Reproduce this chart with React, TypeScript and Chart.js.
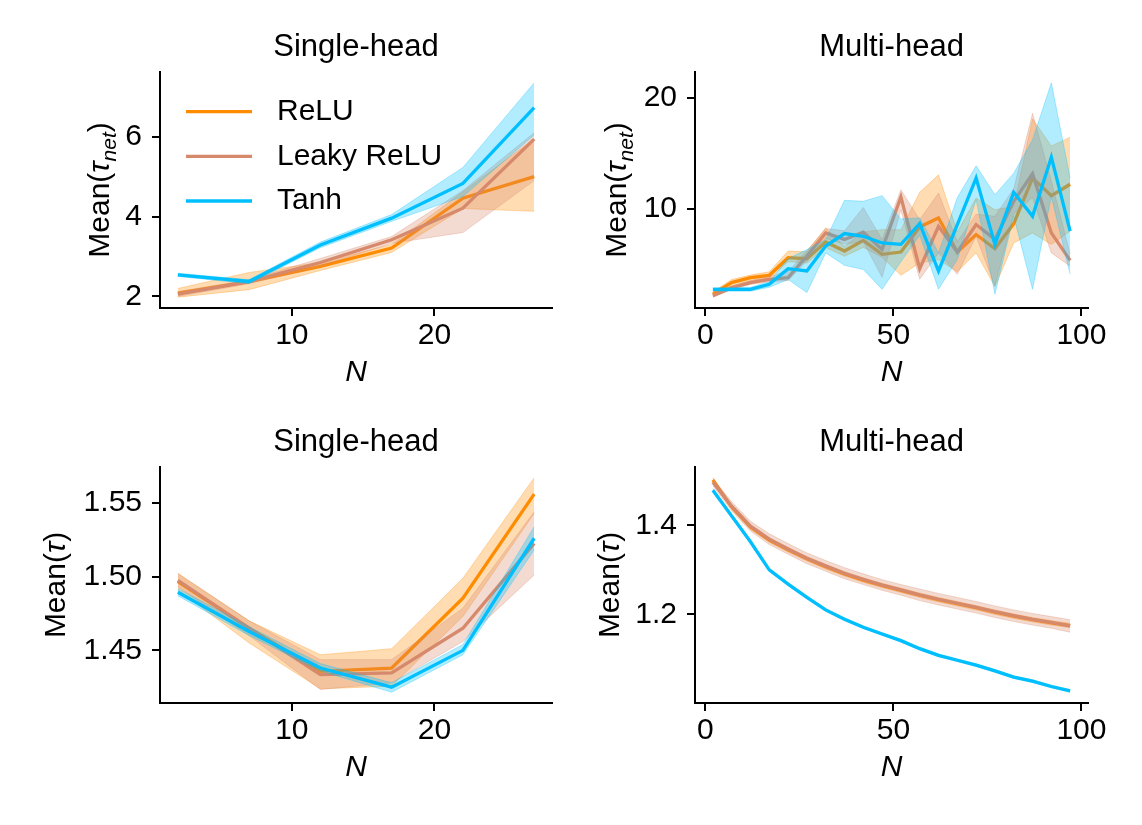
import React, { useEffect, useRef } from "react";
import { Chart, registerables } from "chart.js";
Chart.register(...registerables);

const FONT = "'Liberation Sans', Arial, Helvetica, sans-serif";

// ---------- categories ----------
const N_SINGLE = [2, 7, 12, 17, 22, 27];
const N_MULTI = [2, 7, 12, 17, 22, 27, 32, 37, 42, 47, 52, 57, 62, 67, 72, 77, 82, 87, 92, 97];

// ---------- tick labels ----------
const X_TICKS_SINGLE = [10, 20];
const X_TICKS_MULTI = [0, 50, 100];
const Y_TICKS_TL = [2, 4, 6];
const Y_TICKS_TR = [10, 20];
const Y_TICKS_BL = [1.45, 1.5, 1.55];
const Y_TICKS_BR = [1.2, 1.4];

// ---------- Single-head, Mean(tau_net) ----------
const TL_RELU = [2.08, 2.37, 2.75, 3.21, 4.46, 5.0];
const TL_RELU_LO = [1.98, 2.17, 2.65, 3.1, 4.2, 4.13];
const TL_RELU_HI = [2.2, 2.6, 2.85, 3.3, 4.62, 5.95];
const TL_LEAKY = [2.06, 2.37, 2.85, 3.42, 4.21, 5.94];
const TL_LEAKY_LO = [2.0, 2.32, 2.75, 3.33, 3.6, 4.9];
const TL_LEAKY_HI = [2.12, 2.42, 2.95, 3.5, 4.65, 6.1];
const TL_TANH = [2.54, 2.375, 3.29, 3.96, 4.83, 6.73];
const TL_TANH_LO = [2.5, 2.32, 3.22, 3.88, 4.5, 6.04];
const TL_TANH_HI = [2.58, 2.42, 3.36, 4.05, 5.23, 7.35];

// ---------- Multi-head, Mean(tau_net) ----------
const TR_RELU = [2.28, 3.32, 3.77, 3.98, 5.57, 5.48, 6.98, 6.17, 7.13, 5.87, 6.08, 8.35, 9.16, 6.08, 7.66, 6.38, 8.65, 12.75, 11.17, 12.2];
const TR_RELU_LO = [2.1, 3.0, 3.5, 3.7, 5.2, 5.1, 6.5, 5.7, 6.5, 5.6, 3.98, 5.1, 5.4, 4.3, 6.0, 2.96, 6.9, 7.8, 6.77, 7.96];
const TR_RELU_HI = [2.5, 3.6, 4.0, 4.3, 6.17, 6.1, 8.26, 6.6, 7.9, 8.1, 8.1, 11.47, 13.05, 7.9, 10.96, 9.9, 10.2, 18.1, 15.66, 16.44];
const TR_LEAKY = [2.13, 2.87, 3.32, 3.62, 3.77, 5.72, 7.81, 7.22, 7.87, 6.32, 11.05, 4.58, 8.41, 6.08, 8.56, 7.22, 10.66, 13.14, 7.81, 5.33];
const TR_LEAKY_LO = [2.0, 2.7, 3.15, 3.4, 3.5, 5.3, 7.3, 6.8, 7.0, 3.8, 9.9, 3.62, 6.0, 4.07, 7.5, 3.0, 9.5, 11.0, 6.0, 4.8];
const TR_LEAKY_HI = [2.3, 3.0, 3.5, 3.9, 4.3, 6.2, 8.2, 8.0, 10.1, 7.2, 11.7, 9.0, 11.4, 7.0, 9.5, 9.3, 11.8, 18.6, 12.5, 5.9];
const TR_TANH = [2.72, 2.72, 2.72, 3.17, 4.58, 4.37, 6.62, 7.75, 7.5, 6.9, 6.77, 8.65, 4.37, 8.56, 12.75, 6.77, 11.47, 9.31, 14.64, 7.96];
const TR_TANH_LO = [2.55, 2.55, 2.55, 2.9, 3.6, 2.42, 6.0, 4.88, 4.5, 2.72, 5.2, 7.6, 2.72, 5.4, 10.8, 2.28, 9.3, 2.72, 11.1, 4.07];
const TR_TANH_HI = [2.85, 2.85, 2.9, 3.4, 5.5, 6.3, 7.2, 10.75, 10.66, 11.17, 9.07, 9.16, 6.0, 11.0, 13.86, 11.26, 13.2, 16.2, 21.35, 12.75];

// ---------- Single-head, Mean(tau) ----------
const BL_RELU = [1.4966, 1.465, 1.4358, 1.438, 1.4854, 1.5559];
const BL_RELU_LO = [1.491, 1.455, 1.4239, 1.4257, 1.473, 1.5428];
const BL_RELU_HI = [1.5023, 1.47, 1.447, 1.4511, 1.4989, 1.567];
const BL_LEAKY = [1.4975, 1.465, 1.4336, 1.4347, 1.465, 1.5225];
const BL_LEAKY_LO = [1.493, 1.46, 1.4234, 1.428, 1.456, 1.5011];
const BL_LEAKY_HI = [1.502, 1.47, 1.4437, 1.4437, 1.4786, 1.5439];
const BL_TANH = [1.4894, 1.4628, 1.438, 1.425, 1.45, 1.526];
const BL_TANH_LO = [1.487, 1.46, 1.436, 1.4216, 1.447, 1.518];
const BL_TANH_HI = [1.492, 1.466, 1.441, 1.428, 1.454, 1.5338];

// ---------- Multi-head, Mean(tau) ----------
const BR_RELU = [1.502, 1.441, 1.396, 1.367, 1.345, 1.325, 1.307, 1.291, 1.277, 1.265, 1.254, 1.243, 1.233, 1.224, 1.215, 1.205, 1.196, 1.188, 1.181, 1.175];
const BR_RELU_LO = [1.497, 1.436, 1.391, 1.362, 1.34, 1.32, 1.302, 1.286, 1.272, 1.26, 1.249, 1.238, 1.228, 1.219, 1.21, 1.2, 1.191, 1.183, 1.176, 1.17];
const BR_RELU_HI = [1.507, 1.446, 1.401, 1.372, 1.35, 1.33, 1.312, 1.296, 1.282, 1.27, 1.259, 1.248, 1.238, 1.229, 1.22, 1.21, 1.201, 1.193, 1.186, 1.18];
const BR_LEAKY = [1.497, 1.443, 1.398, 1.369, 1.347, 1.326, 1.309, 1.2925, 1.279, 1.266, 1.255, 1.244, 1.234, 1.225, 1.216, 1.206, 1.197, 1.189, 1.182, 1.174];
const BR_LEAKY_LO = [1.489, 1.433, 1.387, 1.357, 1.335, 1.314, 1.297, 1.28, 1.267, 1.254, 1.243, 1.231, 1.221, 1.212, 1.203, 1.193, 1.184, 1.176, 1.169, 1.16];
const BR_LEAKY_HI = [1.505, 1.453, 1.409, 1.381, 1.359, 1.338, 1.321, 1.305, 1.291, 1.278, 1.267, 1.257, 1.247, 1.238, 1.229, 1.219, 1.21, 1.202, 1.195, 1.188];
const BR_TANH = [1.479, 1.421, 1.363, 1.3, 1.268, 1.238, 1.21, 1.189, 1.171, 1.156, 1.141, 1.123, 1.108, 1.097, 1.086, 1.073, 1.059, 1.05, 1.038, 1.028];
const BR_TANH_LO = [1.475, 1.418, 1.36, 1.297, 1.265, 1.235, 1.207, 1.186, 1.168, 1.153, 1.138, 1.12, 1.105, 1.094, 1.083, 1.07, 1.056, 1.047, 1.035, 1.025];
const BR_TANH_HI = [1.483, 1.424, 1.366, 1.303, 1.271, 1.241, 1.213, 1.192, 1.174, 1.159, 1.144, 1.126, 1.111, 1.1, 1.089, 1.076, 1.062, 1.053, 1.041, 1.031];

const LABELS = ["ReLU", "Leaky ReLU", "Tanh"];
const RGB = ["255,140,0", "214,137,107", "0,191,255"];

const CW = 571;
const CH = 412;

type Series = { mean: number[]; lo: number[]; hi: number[] };
type Part = { text: string; font: string; dy?: number };
type Panel = {
  key: string;
  left: number;
  top: number;
  title: string;
  xs: number[];
  xMin: number;
  xMax: number;
  xTicks: number[];
  yMin: number;
  yMax: number;
  yTicks: number[];
  yFmt: (v: number) => string;
  series: Series[];
  areaLeft: number;
  areaRight: number;
  yTitleX: number;
  yTitle: Part[];
  legend: boolean;
};

const normal = `30px ${FONT}`;
const italic = `italic 30px ${FONT}`;
const italicSmall = `italic 21px ${FONT}`;
const TAU_NET: Part[] = [
  { text: "Mean(", font: normal },
  { text: "τ", font: italic },
  { text: "net", font: italicSmall, dy: 7 },
  { text: ")", font: normal },
];
const TAU: Part[] = [
  { text: "Mean(", font: normal },
  { text: "τ", font: italic },
  { text: ")", font: normal },
];

const PANELS: Panel[] = [
  {
    key: "tl", left: 0, top: 0, title: "Single-head", xs: N_SINGLE, xMin: 0.75, xMax: 28.25, xTicks: X_TICKS_SINGLE,
    yMin: 1.71, yMax: 7.62, yTicks: Y_TICKS_TL, yFmt: (v) => String(v),
    series: [
      { mean: TL_RELU, lo: TL_RELU_LO, hi: TL_RELU_HI },
      { mean: TL_LEAKY, lo: TL_LEAKY_LO, hi: TL_LEAKY_HI },
      { mean: TL_TANH, lo: TL_TANH_LO, hi: TL_TANH_HI },
    ],
    areaLeft: 160, areaRight: 552, yTitleX: 109, yTitle: TAU_NET, legend: true,
  },
  {
    key: "tr", left: 571, top: 0, title: "Multi-head", xs: N_MULTI, xMin: -2.75, xMax: 101.75, xTicks: X_TICKS_MULTI,
    yMin: 1.03, yMax: 22.33, yTicks: Y_TICKS_TR, yFmt: (v) => String(v),
    series: [
      { mean: TR_RELU, lo: TR_RELU_LO, hi: TR_RELU_HI },
      { mean: TR_LEAKY, lo: TR_LEAKY_LO, hi: TR_LEAKY_HI },
      { mean: TR_TANH, lo: TR_TANH_LO, hi: TR_TANH_HI },
    ],
    areaLeft: 124, areaRight: 517, yTitleX: 55, yTitle: TAU_NET, legend: false,
  },
  {
    key: "bl", left: 0, top: 395, title: "Single-head", xs: N_SINGLE, xMin: 0.75, xMax: 28.25, xTicks: X_TICKS_SINGLE,
    yMin: 1.4143, yMax: 1.5743, yTicks: Y_TICKS_BL, yFmt: (v) => v.toFixed(2),
    series: [
      { mean: BL_RELU, lo: BL_RELU_LO, hi: BL_RELU_HI },
      { mean: BL_LEAKY, lo: BL_LEAKY_LO, hi: BL_LEAKY_HI },
      { mean: BL_TANH, lo: BL_TANH_LO, hi: BL_TANH_HI },
    ],
    areaLeft: 160, areaRight: 552, yTitleX: 65, yTitle: TAU, legend: false,
  },
  {
    key: "br", left: 571, top: 395, title: "Multi-head", xs: N_MULTI, xMin: -2.75, xMax: 101.75, xTicks: X_TICKS_MULTI,
    yMin: 1.001, yMax: 1.531, yTicks: Y_TICKS_BR, yFmt: (v) => v.toFixed(1),
    series: [
      { mean: BR_RELU, lo: BR_RELU_LO, hi: BR_RELU_HI },
      { mean: BR_LEAKY, lo: BR_LEAKY_LO, hi: BR_LEAKY_HI },
      { mean: BR_TANH, lo: BR_TANH_LO, hi: BR_TANH_HI },
    ],
    areaLeft: 124, areaRight: 517, yTitleX: 48, yTitle: TAU, legend: false,
  },
];

const richYTitle = {
  id: "richYTitle",
  afterDraw(chart: any, _args: any, opts: any) {
    const { ctx, chartArea } = chart;
    const parts: Part[] = opts.parts || [];
    ctx.save();
    const cy = (chartArea.top + chartArea.bottom) / 2;
    ctx.translate(opts.x, cy);
    ctx.rotate(-Math.PI / 2);
    let total = 0;
    const widths = parts.map((p) => {
      ctx.font = p.font;
      const w = ctx.measureText(p.text).width;
      total += w;
      return w;
    });
    let x = -total / 2;
    ctx.fillStyle = "#000";
    ctx.textAlign = "left";
    ctx.textBaseline = "alphabetic";
    parts.forEach((p, i) => {
      ctx.font = p.font;
      ctx.fillText(p.text, x, p.dy || 0);
      x += widths[i];
    });
    ctx.restore();
  },
};

const innerLegend = {
  id: "innerLegend",
  afterDatasetsDraw(chart: any, _args: any, opts: any) {
    if (!opts.show) return;
    const { ctx } = chart;
    ctx.save();
    const ys = [111.7, 156.3, 201];
    LABELS.forEach((lab, i) => {
      ctx.strokeStyle = `rgb(${RGB[i]})`;
      ctx.lineWidth = 3.3;
      ctx.beginPath();
      ctx.moveTo(186, ys[i]);
      ctx.lineTo(252, ys[i]);
      ctx.stroke();
      ctx.fillStyle = "#000";
      ctx.font = normal;
      ctx.textAlign = "left";
      ctx.textBaseline = "middle";
      ctx.fillText(lab, 277, ys[i]);
    });
    ctx.restore();
  },
};

function pts(xs: number[], ys: number[]) {
  return xs.map((x, i) => ({ x, y: ys[i] }));
}

function buildConfig(p: Panel): any {
  const datasets: any[] = [];
  p.series.forEach((s, k) => {
    const base = 10 * (3 - k);
    const c = RGB[k];
    datasets.push({
      label: LABELS[k] + " upper",
      data: pts(p.xs, s.hi),
      borderColor: `rgba(${c},0.3)`,
      borderWidth: 1,
      backgroundColor: "transparent",
      fill: false,
      pointRadius: 0,
      tension: 0,
      order: base + 3,
    });
    datasets.push({
      label: LABELS[k] + " lower",
      data: pts(p.xs, s.lo),
      borderColor: `rgba(${c},0.3)`,
      borderWidth: 1,
      backgroundColor: `rgba(${c},0.3)`,
      fill: "-1",
      pointRadius: 0,
      tension: 0,
      order: base + 2,
    });
    datasets.push({
      label: LABELS[k],
      data: pts(p.xs, s.mean),
      borderColor: `rgb(${c})`,
      borderWidth: 3.3,
      backgroundColor: `rgb(${c})`,
      fill: false,
      pointRadius: 0,
      tension: 0,
      borderCapStyle: "butt",
      borderJoinStyle: "miter",
      order: base + 1,
    });
  });

  const tickFont = { family: FONT, size: 30 };
  const grid = { drawOnChartArea: false, drawTicks: true, tickLength: 8, color: "#000", lineWidth: 2 };
  const border = { display: true, color: "#000", width: 2 };

  return {
    type: "line",
    data: { datasets },
    options: {
      responsive: false,
      animation: false,
      devicePixelRatio: 1,
      layout: { padding: { left: 0, right: CW - p.areaRight, top: 0, bottom: 0 } },
      plugins: {
        legend: { display: false },
        tooltip: { enabled: false },
        title: {
          display: true,
          fullSize: false,
          text: p.title,
          color: "#000",
          font: { family: FONT, size: 31, weight: "normal", lineHeight: 1.2 },
          padding: { top: 28.4, bottom: 6.4 },
        },
        richYTitle: { x: p.yTitleX, parts: p.yTitle },
        innerLegend: { show: p.legend },
      },
      scales: {
        x: {
          type: "linear",
          min: p.xMin,
          max: p.xMax,
          afterBuildTicks: (s: any) => {
            s.ticks = p.xTicks.map((v) => ({ value: v }));
          },
          afterFit: (s: any) => {
            s.height = 104;
          },
          ticks: {
            color: "#000",
            font: tickFont,
            padding: 2,
            maxRotation: 0,
            autoSkip: false,
            callback: (v: number) => String(v),
          },
          grid,
          border,
          title: {
            display: true,
            text: "N",
            color: "#000",
            font: { family: FONT, size: 30, style: "italic", lineHeight: 1.2 },
            padding: { top: 0, bottom: 21 },
          },
        },
        y: {
          type: "linear",
          min: p.yMin,
          max: p.yMax,
          afterBuildTicks: (s: any) => {
            s.ticks = p.yTicks.map((v) => ({ value: v }));
          },
          afterFit: (s: any) => {
            s.width = p.areaLeft;
          },
          ticks: {
            color: "#000",
            font: tickFont,
            padding: 10,
            autoSkip: false,
            callback: (v: number) => p.yFmt(v),
          },
          grid,
          border,
          title: { display: false },
        },
      },
    },
    plugins: [richYTitle, innerLegend],
  };
}

function PanelChart({ panel }: { panel: Panel }) {
  const ref = useRef<HTMLCanvasElement | null>(null);
  useEffect(() => {
    if (!ref.current) return;
    const chart = new Chart(ref.current, buildConfig(panel));
    return () => chart.destroy();
  }, [panel]);
  return (
    <canvas
      ref={ref}
      width={CW}
      height={CH}
      style={{ position: "absolute", left: panel.left, top: panel.top, width: CW, height: CH }}
    />
  );
}

export default function App() {
  return (
    <div
      style={{
        position: "fixed",
        left: 0,
        top: 0,
        width: 1142,
        height: 825,
        background: "#fff",
        overflow: "hidden",
      }}
    >
      {PANELS.map((p) => (
        <PanelChart key={p.key} panel={p} />
      ))}
    </div>
  );
}
